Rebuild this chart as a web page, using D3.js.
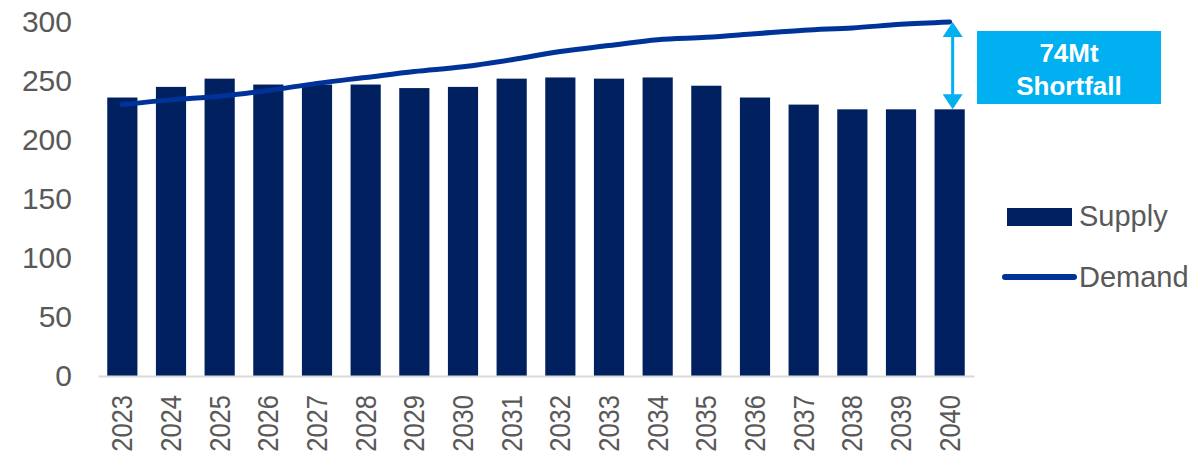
<!DOCTYPE html>
<html><head><meta charset="utf-8">
<script src="https://cdn.jsdelivr.net/npm/d3@7"></script>
<style>body{margin:0;background:#fff}svg{display:block}text{font-family:"Liberation Sans",Arial,sans-serif}</style>
</head><body><svg id="c" width="1203" height="458"></svg>
<script>
const years = ["2023","2024","2025","2026","2027","2028","2029","2030","2031","2032","2033","2034","2035","2036","2037","2038","2039","2040"];
const supply = [236,245,252,247,247,247,244,245,252,253,252,253,246,236,230,226,226,226];
const demand = [230,234,237,242,248,253,258,262,268,275,280,285,287,290,293,295,298,300];
const yTicks = [0,50,100,150,200,250,300];
const seriesNames = ["Supply","Demand"];
const annotationLines = ["74Mt","Shortfall"];

const svg = d3.select("#c");
const x = d3.scaleBand().domain(years).range([98,974]).paddingInner(0.38).paddingOuter(0.19);
const y = d3.scaleLinear().domain([0,300]).range([376,22]);
const grey = "#595959", navy = "#002060", lineCol = "#003399", cyan = "#00b0f0";

// y axis labels
const ya = svg.append("g").attr("transform","translate(74,0)").call(d3.axisLeft(y).tickValues(yTicks).tickSize(0).tickPadding(2));
ya.select(".domain").remove();
ya.selectAll("text").attr("fill",grey).style("font-size","30px").style("font-family","'Liberation Sans',Arial,sans-serif");

// bars
svg.append("g").selectAll("rect").data(years).join("rect")
  .attr("x",d=>x(d)).attr("width",x.bandwidth())
  .attr("y",(d,i)=>y(supply[i])).attr("height",(d,i)=>y(0)-y(supply[i]))
  .attr("fill",navy);

// x axis
const xa = svg.append("g").attr("transform","translate(0,376)").call(d3.axisBottom(x).tickSize(0).tickSizeOuter(0));
xa.select(".domain").attr("stroke","#d9d9d9").attr("stroke-width",2);
xa.selectAll("text").attr("fill",grey).style("font-size","29px").style("font-family","'Liberation Sans',Arial,sans-serif")
  .attr("text-anchor","end").attr("dy",null).attr("y",0)
  .attr("transform","translate(0,19) rotate(-90) scale(0.88,1)").attr("dominant-baseline","central");

// demand line
const line = d3.line().x((d,i)=>x(years[i])+x.bandwidth()/2).y(d=>y(d)).curve(d3.curveMonotoneX);
svg.append("path").datum(demand).attr("d",line).attr("fill","none").attr("stroke",lineCol).attr("stroke-width",5).attr("stroke-linecap","round");

// annotation arrow
const ax = x("2040")+x.bandwidth()/2+3;
const yTop = y(demand[demand.length-1]), yBot = y(supply[supply.length-1]);
svg.append("line").attr("x1",ax).attr("x2",ax).attr("y1",yTop+10).attr("y2",yBot-10).attr("stroke",cyan).attr("stroke-width",3);
svg.append("path").attr("d",`M${ax},${yTop} L${ax-10},${yTop+15} L${ax+10},${yTop+15}Z`).attr("fill",cyan);
svg.append("path").attr("d",`M${ax},${yBot} L${ax-10},${yBot-15} L${ax+10},${yBot-15}Z`).attr("fill",cyan);
svg.append("rect").attr("x",977).attr("y",31).attr("width",184).attr("height",73).attr("fill",cyan);
svg.append("g").selectAll("text").data(annotationLines).join("text")
  .attr("x",1069).attr("y",(d,i)=>53+i*33).attr("text-anchor","middle").attr("dominant-baseline","central")
  .attr("fill","#fff").style("font-size","26px").style("font-weight","bold").text(d=>d);

// legend
svg.append("rect").attr("x",1007).attr("y",208).attr("width",65).attr("height",18).attr("fill",navy);
svg.append("line").attr("x1",1005).attr("x2",1074).attr("y1",277).attr("y2",277).attr("stroke",lineCol).attr("stroke-width",6).attr("stroke-linecap","round");
svg.append("g").selectAll("text").data(seriesNames).join("text")
  .attr("x",1079).attr("y",(d,i)=>i?277:216).attr("dominant-baseline","central")
  .attr("fill",grey).style("font-size","29px").text(d=>d);
</script></body></html>
